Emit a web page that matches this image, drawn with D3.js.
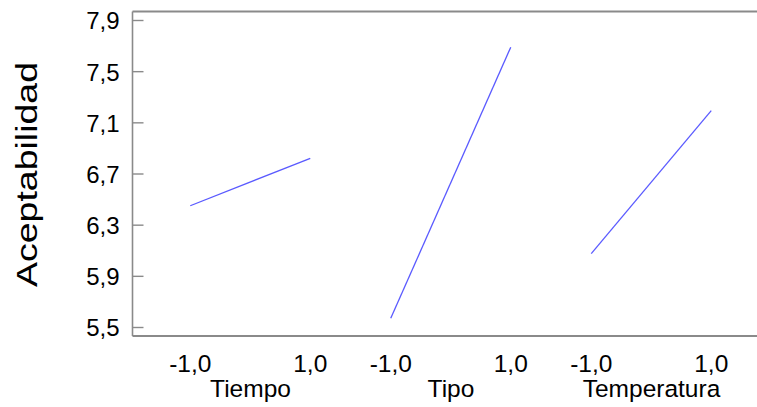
<!DOCTYPE html>
<html>
<head>
<meta charset="utf-8">
<script src="https://cdn.jsdelivr.net/npm/d3@7"></script>
<style>
  html, body { margin: 0; padding: 0; background: #fff; }
  svg { display: block; font-family: "Liberation Sans", Arial, sans-serif; }
</style>
</head>
<body>
<svg id="chart" width="757" height="407"></svg>
<script>
// Main effects on Aceptabilidad
const factors = ["Tiempo", "Tipo", "Temperatura"];
const levels = [-1, 1];
const levelLabels = ["-1,0", "1,0"];
const lowMeans = [6.448, 5.568, 6.073];
const highMeans = [6.819, 7.687, 7.191];
const yTicks = [5.5, 5.9, 6.3, 6.7, 7.1, 7.5, 7.9];
const yTitle = "Aceptabilidad";

const svg = d3.select("#chart");
const W = 757;
const frameLeft = 132.5;
const axisColor = "#8a8a8a";

const y = d3.scaleLinear().domain([5.5, 7.9]).range([327, 20]);
const frameTop = y(7.9) - 8.5;
const frameBottom = y(5.5) + 9;

const band = d3.scaleBand().domain(factors).range([150.25, 751.75]);
const inner = d3.scaleLinear().domain([-1, 1]).range([40, 160]);
const xPos = (f, lv) => band(f) + inner(lv);

// frame: left spine, top and bottom rules
svg.append("line")
  .attr("x1", frameLeft).attr("x2", frameLeft)
  .attr("y1", frameTop).attr("y2", frameBottom)
  .attr("stroke", axisColor).attr("stroke-width", 1.6);
svg.append("line")
  .attr("x1", frameLeft).attr("x2", W)
  .attr("y1", frameTop).attr("y2", frameTop)
  .attr("stroke", axisColor).attr("stroke-width", 1.8);
svg.append("line")
  .attr("x1", frameLeft).attr("x2", W)
  .attr("y1", frameBottom).attr("y2", frameBottom)
  .attr("stroke", axisColor).attr("stroke-width", 1.8);

// y axis with inward ticks
const fmt = v => d3.format(".1f")(v).replace(".", ",");
const yAxis = d3.axisRight(y).tickValues(yTicks).tickSize(11).tickFormat(fmt).tickPadding(0);
const gy = svg.append("g").attr("transform", `translate(${frameLeft},0)`).call(yAxis);
gy.select(".domain").remove();
gy.selectAll(".tick line").attr("stroke", axisColor).attr("stroke-width", 1.4);
gy.selectAll(".tick text")
  .attr("x", -13).attr("dy", "0.37em")
  .attr("text-anchor", "end")
  .attr("fill", "#000")
  .style("font-size", "24px");

// y title, stretched along its length
svg.append("text")
  .attr("transform", `translate(37,${(62 + 287) / 2}) rotate(-90)`)
  .attr("text-anchor", "middle")
  .attr("textLength", 225)
  .attr("lengthAdjust", "spacingAndGlyphs")
  .attr("fill", "#000")
  .style("font-size", "30px")
  .text(yTitle);

// level labels under each factor
factors.forEach(f => {
  levels.forEach((lv, j) => {
    svg.append("text")
      .attr("x", xPos(f, lv))
      .attr("y", 371.5)
      .attr("text-anchor", "middle")
      .attr("fill", "#000")
      .style("font-size", "24.5px")
      .text(levelLabels[j]);
  });
  svg.append("text")
    .attr("x", band(f) + band.bandwidth() / 2)
    .attr("y", 396.5)
    .attr("text-anchor", "middle")
    .attr("fill", "#000")
    .style("font-size", "24.5px")
    .text(f);
});

// effect lines
const effects = factors.map((f, i) => ({
  factor: f,
  pts: [[-1, lowMeans[i]], [1, highMeans[i]]]
}));
const line = d3.line();
svg.selectAll("path.effect")
  .data(effects)
  .join("path")
  .attr("class", "effect")
  .attr("d", d => line(d.pts.map(p => [xPos(d.factor, p[0]), y(p[1])])))
  .attr("fill", "none")
  .attr("stroke", "#5a5aff")
  .attr("stroke-width", 1.3);
</script>
</body>
</html>
